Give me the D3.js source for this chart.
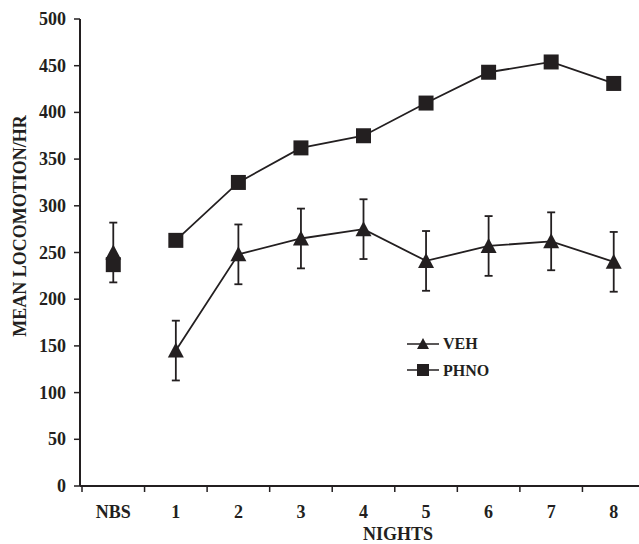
<!DOCTYPE html>
<html>
<head>
<meta charset="utf-8">
<script src="https://cdn.jsdelivr.net/npm/d3@7"></script>
<style>
body{margin:0;background:#fff;}
svg text{font-family:"Liberation Serif","Times New Roman",serif;font-weight:bold;fill:#231f20;}
</style>
</head>
<body>
<div id="chart"></div>
<script>
// data
var nights=["NBS","1","2","3","4","5","6","7","8"];
var veh=[250,145,248,265,275,241,257,262,240];
var vehErr=[32,32,32,32,32,32,32,31,32];
var phno=[237,263,325,362,375,410,443,454,431];
var yTicks=[0,50,100,150,200,250,300,350,400,450,500];

var width=639, height=544;
var ink="#231f20";

var svg=d3.select("#chart").append("svg")
	.attr("width",width)
	.attr("height",height);

var x=d3.scaleBand().domain(nights).range([82,645]);
var y=d3.scaleLinear().domain([0,500]).range([486,19]);

// y axis
var yAxis=svg.append("g").attr("transform","translate(80,0)");
yAxis.append("line").attr("x1",0).attr("x2",0).attr("y1",y(500)).attr("y2",y(0))
	.attr("stroke",ink).attr("stroke-width",2);
yAxis.selectAll(".yt").data(yTicks).enter().append("line")
	.attr("x1",-6).attr("x2",0)
	.attr("y1",function(d){return y(d);}).attr("y2",function(d){return y(d);})
	.attr("stroke",ink).attr("stroke-width",1.5);
yAxis.selectAll(".yl").data(yTicks).enter().append("text")
	.attr("x",-14).attr("y",function(d){return y(d)+6;})
	.attr("text-anchor","end")
	.style("font-size","18px")
	.text(function(d){return d;});

// x axis
var xAxis=svg.append("g");
xAxis.append("line").attr("x1",80).attr("x2",width).attr("y1",y(0)).attr("y2",y(0))
	.attr("stroke",ink).attr("stroke-width",2);
xAxis.selectAll(".xt").data(nights).enter().append("line")
	.attr("x1",function(d){return x(d);}).attr("x2",function(d){return x(d);})
	.attr("y1",y(0)).attr("y2",y(0)+6)
	.attr("stroke",ink).attr("stroke-width",1.5);
xAxis.selectAll(".xl").data(nights).enter().append("text")
	.attr("x",function(d){return x(d)+x.bandwidth()/2;})
	.attr("y",518)
	.attr("text-anchor","middle")
	.style("font-size","18px")
	.text(function(d){return d;});

svg.append("text").attr("x",398).attr("y",540).attr("text-anchor","middle")
	.style("font-size","18px").text("NIGHTS");
svg.append("text").attr("transform","translate(26,226) rotate(-90)")
	.attr("text-anchor","middle").style("font-size","18px")
	.text("MEAN LOCOMOTION/HR");

function cx(i){return x(nights[i])+x.bandwidth()/2;}

var line=d3.line().x(function(d){return cx(d.i);}).y(function(d){return y(d.v);});
function pts(arr){return arr.map(function(v,i){return {i:i,v:v};});}

// connecting lines, nights 1-8 only
svg.append("path").datum(pts(phno).slice(1)).attr("d",line)
	.attr("fill","none").attr("stroke",ink).attr("stroke-width",1.8);
svg.append("path").datum(pts(veh).slice(1)).attr("d",line)
	.attr("fill","none").attr("stroke",ink).attr("stroke-width",1.8);

// error bars VEH
var eb=svg.append("g");
veh.forEach(function(v,i){
	var x0=cx(i);
	eb.append("line").attr("x1",x0).attr("x2",x0).attr("y1",y(v+vehErr[i])).attr("y2",y(v-vehErr[i]))
		.attr("stroke",ink).attr("stroke-width",1.8);
	[v+vehErr[i],v-vehErr[i]].forEach(function(e){
		eb.append("line").attr("x1",x0-4).attr("x2",x0+4).attr("y1",y(e)).attr("y2",y(e))
			.attr("stroke",ink).attr("stroke-width",1.8);
	});
});

// markers
var sq=d3.symbol().type(d3.symbolSquare).size(225);
var tri="M0,-8L8,7L-8,7Z";
svg.selectAll(".sq").data(pts(phno)).enter().append("path")
	.attr("d",sq)
	.attr("transform",function(d){return "translate("+cx(d.i)+","+y(d.v)+")";})
	.attr("fill",ink);
svg.selectAll(".tri").data(pts(veh)).enter().append("path")
	.attr("d",tri)
	.attr("transform",function(d){return "translate("+cx(d.i)+","+y(d.v)+")";})
	.attr("fill",ink);

// legend
var legend=svg.append("g").attr("transform","translate(407,344)");
legend.append("line").attr("x1",0).attr("x2",32).attr("y1",0).attr("y2",0)
	.attr("stroke",ink).attr("stroke-width",1.5);
legend.append("path").attr("d","M0,-6L6,5L-6,5Z").attr("transform","translate(16,0)").attr("fill",ink);
legend.append("text").attr("x",36).attr("y",5).style("font-size","16px").text("VEH");
legend.append("line").attr("x1",0).attr("x2",32).attr("y1",26).attr("y2",26)
	.attr("stroke",ink).attr("stroke-width",1.5);
legend.append("rect").attr("x",10).attr("y",20).attr("width",12).attr("height",12).attr("fill",ink);
legend.append("text").attr("x",36).attr("y",32).style("font-size","16px").text("PHNO");
</script>
</body>
</html>
